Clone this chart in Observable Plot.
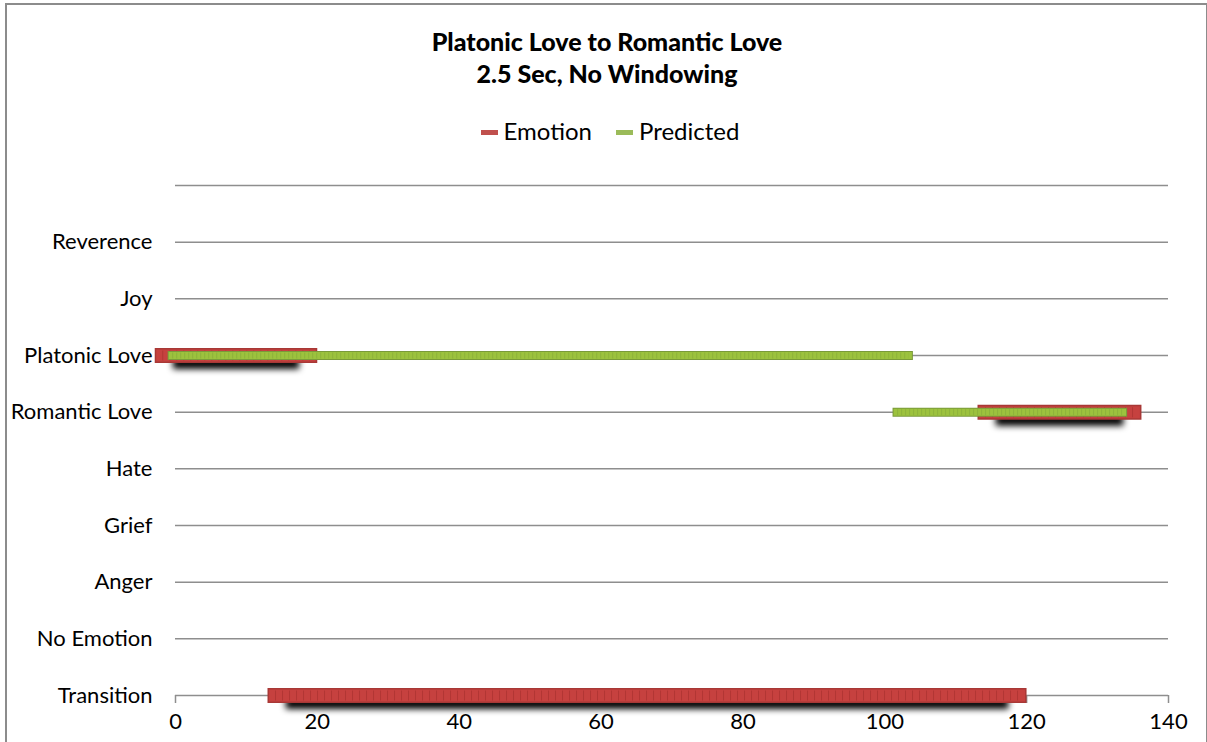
<!DOCTYPE html>
<html>
<head>
<meta charset="utf-8">
<script src="https://cdn.jsdelivr.net/npm/d3@7"></script>
<script src="https://cdn.jsdelivr.net/npm/@observablehq/plot@0.6"></script>
<style>
  html, body { margin: 0; padding: 0; background: #fff; }
  #frame { position: absolute; left: 5px; top: 3px; width: 1199px; height: 760px;
           border-left: 2px solid #8c8c8c; border-top: 2px solid #8c8c8c; border-right: 2px solid #8c8c8c; }
  #wrap { position: absolute; left: 0; top: 0; width: 1207px; height: 742px; font-family: Lato, "Open Sans", sans-serif; }
  #title { position: absolute; left: 0; top: 25px; width: 1214px; text-align: center; font-weight: 900; font-size: 25px; line-height: 32px; color: #000; }
  #legend { position: absolute; left: 0; top: 116px; width: 1220px; text-align: center; font-size: 24px; color: #000; }
  .item { display: inline-block; margin: 0 12px; }
  .sw { display: inline-block; width: 17px; height: 5px; vertical-align: middle; margin-right: 6px; position: relative; top: -1px; }
  #chart { position: absolute; left: 0; top: 160px; }
</style>
</head>
<body>
<div id="frame"></div>
<div id="wrap">
  <div id="title">Platonic Love to Romantic Love<br>2.5 Sec, No Windowing</div>
  <div id="legend"></div>
  <div id="chart"></div>
</div>
<script>
// Category levels (bottom to top); top level is blank
const categories = ["Transition", "No Emotion", "Anger", "Grief", "Hate", "Romantic Love", "Platonic Love", "Joy", "Reverence", ""];
const xTicks = [0, 20, 40, 60, 80, 100, 120, 140];

// Runs: [category, start, end]
const emotionCategory = ["Platonic Love", "Transition", "Romantic Love"];
const emotionStart = [-1.8, 14.1, 114.2];
const emotionEnd = [19.0, 119.0, 135.2];

const predictedCategory = ["Platonic Love", "Romantic Love"];
const predictedStart = [-0.4, 101.8];
const predictedEnd = [103.4, 133.6];

const seriesNames = ["Emotion", "Predicted"];
const seriesColors = ["#c0504d", "#9bbb59"];

const level = c => categories.indexOf(c);
const emotion = emotionCategory.map((c, i) => ({y: level(c), x1: emotionStart[i], x2: emotionEnd[i]}));
const predicted = predictedCategory.map((c, i) => ({y: level(c), x1: predictedStart[i], x2: predictedEnd[i]}));
const gridLevels = d3.range(0, categories.length);

const legend = document.getElementById("legend");
seriesNames.forEach((n, i) => {
  const s = document.createElement("span");
  s.className = "item";
  s.innerHTML = `<span class="sw" style="background:${seriesColors[i]}"></span>${n}`;
  legend.appendChild(s);
});

const chart = Plot.plot({
  width: 1207,
  height: 582,
  marginTop: 25,
  marginBottom: 47,
  marginLeft: 175,
  marginRight: 39,
  style: {fontFamily: "Lato, 'Open Sans', sans-serif", fontSize: "22px", color: "#000", background: "transparent"},
  x: {type: "linear", domain: [0, 140], ticks: xTicks, tickSize: 8, tickPadding: 10, label: null},
  y: {type: "linear", domain: [0, categories.length - 1], ticks: d3.range(categories.length), tickFormat: i => categories[i], tickSize: 0, tickPadding: 23, label: null},
  marks: [
    Plot.ruleY(gridLevels, {y: d => d, x1: () => 0, x2: () => 140, stroke: "#8e8e8e", strokeWidth: 1.5, strokeOpacity: 1}),
    // shadow under emotion runs
    Plot.ruleY(emotion, {y: "y", x1: d => d.x1 + 1.5, x2: d => d.x2 - 1.5, dy: 8, stroke: "#000", strokeWidth: 11, strokeOpacity: 1}),
    // emotion
    Plot.ruleY(emotion, {y: "y", x1: "x1", x2: "x2", stroke: "#a83836", strokeWidth: 15, strokeLinecap: "square"}),
    Plot.ruleY(emotion, {y: "y", x1: "x1", x2: "x2", stroke: "#c6413f", strokeWidth: 12, strokeLinecap: "square"}),
    Plot.ruleY(emotion, {y: "y", x1: "x1", x2: "x2", stroke: "#a5302e", strokeWidth: 10, strokeDasharray: "1 6", strokeOpacity: 0.6}),
    // predicted
    Plot.ruleY(predicted, {y: "y", x1: "x1", x2: "x2", stroke: "#7a9a3a", strokeWidth: 9, strokeLinecap: "square"}),
    Plot.ruleY(predicted, {y: "y", x1: "x1", x2: "x2", stroke: "#9cc23e", strokeWidth: 7, strokeLinecap: "square"}),
    Plot.ruleY(predicted, {y: "y", x1: "x1", x2: "x2", stroke: "#86a83a", strokeWidth: 6, strokeDasharray: "1 3", strokeOpacity: 0.6})
  ]
});
document.getElementById("chart").appendChild(chart);

// style x-axis tick marks grey, blur the shadow mark
d3.select(chart).selectAll("g[aria-label='x-axis'] line, g[aria-label='x-axis tick'] path").attr("stroke", "#8e8e8e").attr("stroke-width", 1.5);
const svg = d3.select(chart);
const defs = svg.insert("defs", ":first-child");
defs.append("filter").attr("id", "blurShadow").attr("x", "-10%").attr("y", "-200%").attr("width", "120%").attr("height", "500%")
  .append("feGaussianBlur").attr("stdDeviation", 3);
const ruleGroups = chart.querySelectorAll("g[aria-label='rule']");
if (ruleGroups.length > 1) ruleGroups[1].setAttribute("filter", "url(#blurShadow)");
</script>
</body>
</html>
